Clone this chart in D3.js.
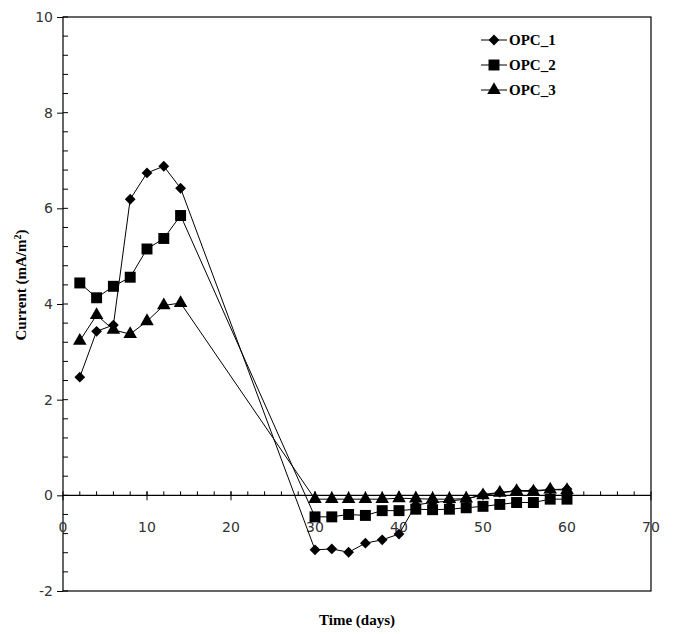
<!DOCTYPE html>
<html>
<head>
<meta charset="utf-8">
<title>OPC current</title>
<script src="https://d3js.org/d3.v7.min.js"></script>
<style>
  body { margin: 0; background: #fff; }
</style>
</head>
<body>
<svg width="678" height="634"></svg>
<script>

// time (days)
var days = [2, 4, 6, 8, 10, 12, 14, 30, 32, 34, 36, 38, 40, 42, 44, 46, 48, 50, 52, 54, 56, 58, 60];

// current (mA/m2)
var opc1 = [2.47, 3.43, 3.56, 6.19, 6.74, 6.88, 6.42, -1.14, -1.12, -1.19, -1.0, -0.93, -0.81, -0.2, -0.15, -0.12, -0.08, 0.02, 0.06, 0.1, 0.1, 0.12, 0.13];
var opc2 = [4.44, 4.13, 4.37, 4.56, 5.15, 5.37, 5.85, -0.45, -0.45, -0.4, -0.42, -0.32, -0.32, -0.29, -0.3, -0.29, -0.26, -0.23, -0.19, -0.15, -0.15, -0.08, -0.08];
var opc3 = [3.23, 3.77, 3.46, 3.37, 3.64, 3.97, 4.02, -0.08, -0.08, -0.08, -0.08, -0.08, -0.06, -0.07, -0.08, -0.08, -0.07, 0.0, 0.05, 0.09, 0.08, 0.12, 0.11];

var seriesNames = ["OPC_1", "OPC_2", "OPC_3"];
var xTicks = [0, 10, 20, 30, 40, 50, 60, 70];
var yTicks = [-2, 0, 2, 4, 6, 8, 10];

var svg = d3.select("svg");

var plotL = 63, plotR = 651, plotT = 17, plotB = 591;

var x = d3.scaleLinear().domain([0, 70]).range([plotL, plotR]);
var y = d3.scaleLinear().domain([-2, 10]).range([plotB, plotT]);

// frame
svg.append("rect")
    .attr("x", plotL).attr("y", plotT)
    .attr("width", plotR - plotL).attr("height", plotB - plotT)
    .attr("fill", "none").attr("stroke", "#000").attr("stroke-width", 1.2);

// y axis: major ticks outside, minor inside
var yAxis = svg.append("g").attr("transform", "translate(" + plotL + ",0)");
yAxis.call(d3.axisLeft(y).tickValues(yTicks).tickSize(6).tickFormat(function(d) { return String(d); }));
yAxis.select(".domain").remove();
yAxis.selectAll("text")
    .attr("font-family", "DejaVu Sans").attr("font-size", 14)
    .attr("fill", "#333").attr("x", -10);
yAxis.append("g").selectAll("line")
    .data(d3.range(-2, 10.001, 0.4))
    .enter().append("line")
      .attr("x1", 0).attr("x2", 5)
      .attr("y1", function(d) { return y(d); })
      .attr("y2", function(d) { return y(d); })
      .attr("stroke", "#000");

// x axis on the zero line
var xAxis = svg.append("g").attr("transform", "translate(0," + y(0) + ")");
xAxis.append("line")
    .attr("x1", plotL).attr("x2", plotR)
    .attr("stroke", "#000").attr("stroke-width", 1.2);
xAxis.selectAll(".minor")
    .data(d3.range(2, 70, 2))
    .enter().append("line")
      .attr("x1", function(d) { return x(d); })
      .attr("x2", function(d) { return x(d); })
      .attr("y1", -4).attr("y2", 0)
      .attr("stroke", "#000");
xAxis.selectAll(".major")
    .data(xTicks)
    .enter().append("line")
      .attr("x1", function(d) { return x(d); })
      .attr("x2", function(d) { return x(d); })
      .attr("y1", -4).attr("y2", 5)
      .attr("stroke", "#000");
xAxis.selectAll("text")
    .data(xTicks)
    .enter().append("text")
      .attr("x", function(d) { return x(d); })
      .attr("y", 37)
      .attr("text-anchor", "middle")
      .attr("font-family", "DejaVu Sans").attr("font-size", 14)
      .attr("fill", "#333")
      .text(function(d) { return d; });

// titles
svg.append("text")
    .attr("x", x(35)).attr("y", 625)
    .attr("text-anchor", "middle")
    .attr("font-family", "Liberation Serif").attr("font-weight", "bold").attr("font-size", 15)
    .text("Time (days)");

var yt = svg.append("text")
    .attr("transform", "translate(26,285) rotate(-90)")
    .attr("text-anchor", "middle")
    .attr("font-family", "Liberation Serif").attr("font-weight", "bold").attr("font-size", 15);
yt.append("tspan").text("Current (mA/m");
yt.append("tspan").attr("dy", -5).attr("font-size", 10).text("2");
yt.append("tspan").attr("dy", 5).text(")");

// series: diamond is a square turned 45 degrees
var series = [opc1, opc2, opc3];
var shapes = [
  d3.symbol().type(d3.symbolSquare).size(58),
  d3.symbol().type(d3.symbolSquare).size(120),
  d3.symbol().type(d3.symbolTriangle).size(80)
];
var turn = [45, 0, 0];

var line = d3.line()
    .x(function(d) { return x(d[0]); })
    .y(function(d) { return y(d[1]); });

series.forEach(function(vals, i) {
  var pts = days.map(function(t, j) { return [t, vals[j]]; });
  svg.append("path")
      .attr("d", line(pts))
      .attr("fill", "none").attr("stroke", "#000").attr("stroke-width", 1);
  svg.append("g").selectAll("path")
    .data(pts)
    .enter().append("path")
      .attr("transform", function(d) { return "translate(" + x(d[0]) + "," + y(d[1]) + ") rotate(" + turn[i] + ")"; })
      .attr("d", shapes[i])
      .attr("fill", "#000");
});

// legend
var legend = svg.append("g").selectAll("g")
    .data(seriesNames)
    .enter().append("g")
      .attr("transform", function(d, i) { return "translate(481," + (40 + i * 25) + ")"; });
legend.append("line")
    .attr("x1", 0).attr("x2", 26)
    .attr("stroke", "#000");
legend.append("path")
    .attr("transform", function(d, i) { return "translate(13,0) rotate(" + turn[i] + ")"; })
    .attr("d", function(d, i) { return shapes[i](); });
legend.append("text")
    .attr("x", 28).attr("y", 5)
    .attr("font-family", "Liberation Serif").attr("font-weight", "bold").attr("font-size", 15)
    .text(function(d) { return d; });

</script>
</body>
</html>
